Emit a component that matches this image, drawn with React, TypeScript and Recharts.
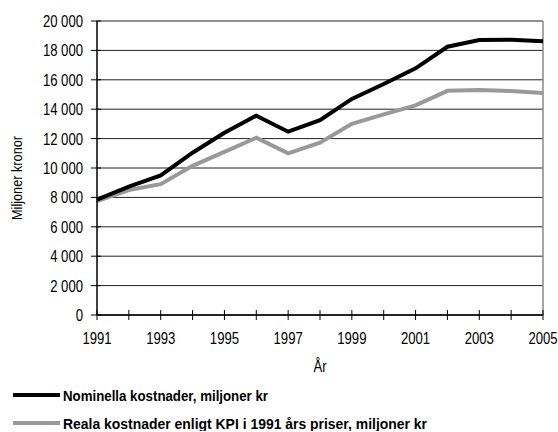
import React from 'react';
import { LineChart, Line, XAxis, YAxis, CartesianGrid, ReferenceLine, Legend, Label } from 'recharts';

const years = [1991, 1992, 1993, 1994, 1995, 1996, 1997, 1998, 1999, 2000, 2001, 2002, 2003, 2004, 2005];
const nominal = [7850, 8730, 9500, 11040, 12400, 13560, 12470, 13260, 14700, 15710, 16780, 18250, 18700, 18720, 18620];
const real = [7740, 8500, 8900, 10150, 11100, 12060, 11000, 11720, 13000, 13650, 14260, 15250, 15300, 15230, 15100];
const yTicks = [0, 2000, 4000, 6000, 8000, 10000, 12000, 14000, 16000, 18000, 20000];
const xLabelYears = [1991, 1993, 1995, 1997, 1999, 2001, 2003, 2005];

const nominalName = 'Nominella kostnader, miljoner kr';
const realName = 'Reala kostnader enligt KPI i 1991 års priser, miljoner kr';
const xTitle = 'År';
const yTitle = 'Miljoner kronor';

const data = years.map((year, i) => ({ year, nominal: nominal[i], real: real[i] }));

// Condensed look: Liberation Sans squeezed horizontally
const FONT = "'Liberation Sans', Arial, sans-serif";
const SQUEEZE = 0.82;

const fmt = (v: number) => v.toLocaleString('en-US').replace(/,/g, ' ');

const CondensedText = ({ x, y, anchor, size, children, weight }: any) => (
  <text
    transform={`translate(${x},${y}) scale(${SQUEEZE},1)`}
    textAnchor={anchor}
    fontFamily={FONT}
    fontSize={size}
    fontWeight={weight || 'normal'}
    fill="#000"
  >
    {children}
  </text>
);

const XTick = (props: any) => {
  const { x, y, payload } = props;
  const showLabel = xLabelYears.includes(payload.value);
  return (
    <g>
      <line x1={x} x2={x} y1={y - 5} y2={y + 5} stroke="#000" strokeWidth={1} />
      {showLabel && (
        <CondensedText x={x} y={y + 29} anchor="middle" size={16}>
          {payload.value}
        </CondensedText>
      )}
    </g>
  );
};

const YTick = (props: any) => {
  const { x, y, payload } = props;
  return (
    <g>
      <line x1={x - 6} x2={x + 4} y1={y} y2={y} stroke="#000" strokeWidth={1} />
      <CondensedText x={x - 14} y={y + 6} anchor="end" size={16}>
        {fmt(payload.value)}
      </CondensedText>
    </g>
  );
};

const XTitle = (props: any) => {
  const { viewBox } = props;
  return (
    <CondensedText x={viewBox.x + viewBox.width / 2} y={viewBox.y + 57} anchor="middle" size={16}>
      {xTitle}
    </CondensedText>
  );
};

const YTitle = (props: any) => {
  const { viewBox } = props;
  const cx = 17;
  const cy = viewBox.y + viewBox.height / 2 + 10;
  return (
    <text
      transform={`translate(${cx + 5},${cy}) rotate(-90)`}
      textAnchor="middle"
      fontFamily={FONT}
      fontSize={14}
      fill="#000"
      textLength={84}
      lengthAdjust="spacingAndGlyphs"
    >
      {yTitle}
    </text>
  );
};

const legendItems = [
  { name: nominalName, color: '#000', width: 205 },
  { name: realName, color: '#999', width: 364 },
];

const LegendContent = () => (
  <svg width={540} height={50} style={{ display: 'block' }}>
    {legendItems.map((item, i) => (
      <g key={i} transform={`translate(0,${14 + i * 28})`}>
        <line x1={0} x2={47} y1={0} y2={0} stroke={item.color} strokeWidth={4} />
        <text
          x={50}
          y={5.5}
          fontFamily={FONT}
          fontWeight="bold"
          fontSize={15}
          fill="#000"
          textLength={item.width}
          lengthAdjust="spacingAndGlyphs"
        >
          {item.name}
        </text>
      </g>
    ))}
  </svg>
);

export default function App() {
  return (
    <div style={{ position: 'absolute', left: 0, top: 0, width: 558, height: 432, background: '#fff' }}>
      <LineChart width={558} height={432} data={data} margin={{ top: 21, right: 15, bottom: 0, left: 0 }}>
        <CartesianGrid horizontal vertical={false} stroke="#222" strokeWidth={1} />
        <XAxis
          dataKey="year"
          type="number"
          domain={[1991, 2005]}
          ticks={years}
          interval={0}
          tickSize={0}
          tickMargin={0}
          tickLine={false}
          tick={<XTick />}
          axisLine={{ stroke: '#000', strokeWidth: 1.5 }}
          height={117}
        >
          <Label content={<XTitle />} />
        </XAxis>
        <YAxis
          type="number"
          domain={[0, 20000]}
          ticks={yTicks}
          interval={0}
          tickSize={0}
          tickMargin={0}
          tickLine={false}
          tick={<YTick />}
          axisLine={{ stroke: '#000', strokeWidth: 1.5 }}
          width={97}
        >
          <Label content={<YTitle />} />
        </YAxis>
        <ReferenceLine x={2005} stroke="#888" strokeWidth={1.5} />
        <Line
          type="linear"
          dataKey="real"
          name={realName}
          stroke="#999"
          strokeWidth={4}
          dot={false}
          activeDot={false}
          isAnimationActive={false}
        />
        <Line
          type="linear"
          dataKey="nominal"
          name={nominalName}
          stroke="#000"
          strokeWidth={4}
          dot={false}
          activeDot={false}
          isAnimationActive={false}
        />
        <Legend
          content={<LegendContent />}
          verticalAlign="top"
          align="left"
          wrapperStyle={{ position: 'absolute', top: 381, left: 13, width: 540, height: 0 }}
        />
      </LineChart>
    </div>
  );
}
